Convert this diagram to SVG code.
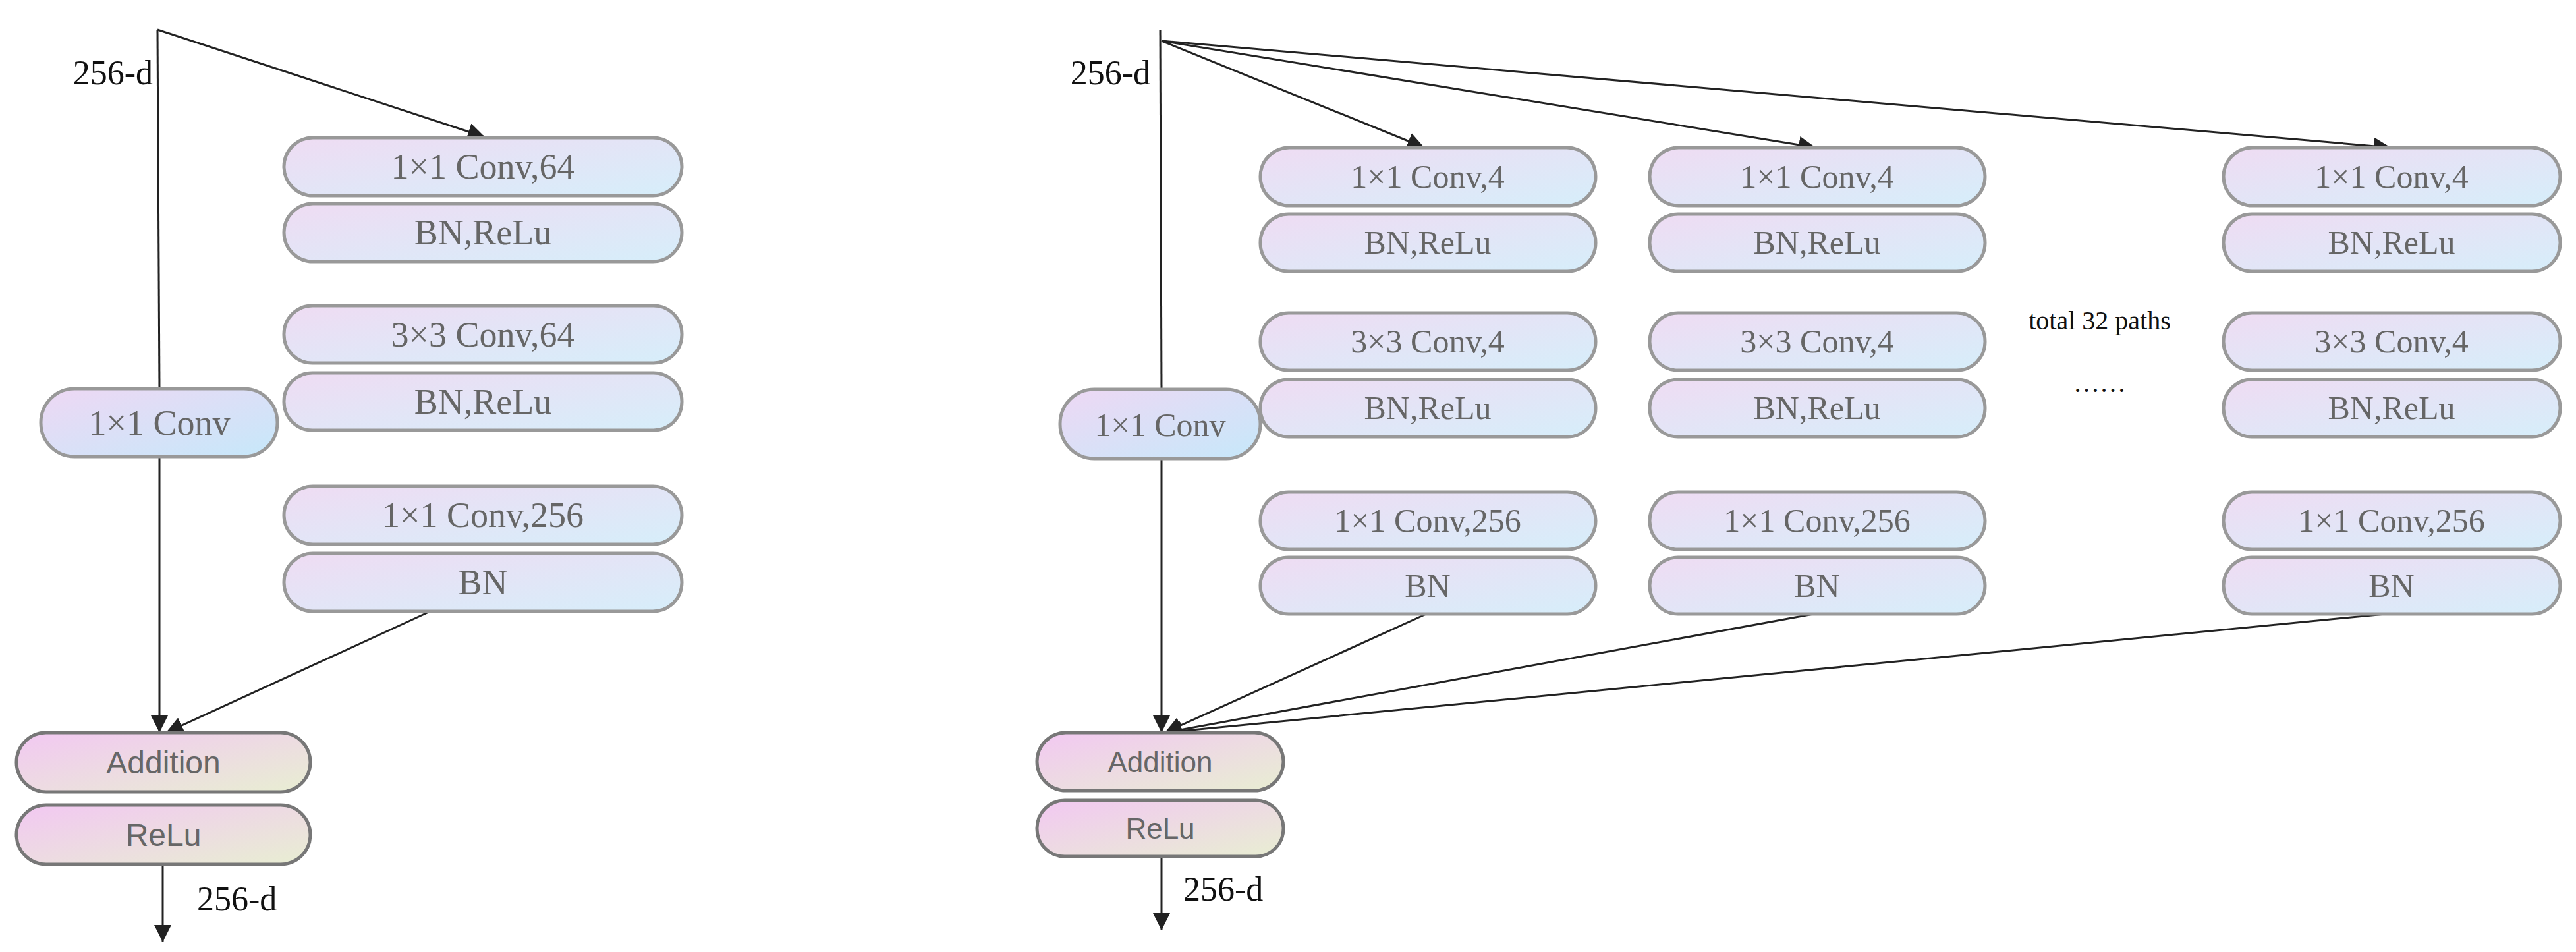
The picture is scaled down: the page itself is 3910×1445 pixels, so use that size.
<svg xmlns="http://www.w3.org/2000/svg" width="3910" height="1445" viewBox="0 0 3910 1445">
<defs>
<linearGradient id="gc" x1="0" y1="0" x2="1" y2="1"><stop offset="0" stop-color="#efdcf3"/><stop offset="1" stop-color="#d6eefa"/></linearGradient>
<linearGradient id="gs" x1="0" y1="0" x2="1" y2="1"><stop offset="0" stop-color="#eed8f4"/><stop offset="1" stop-color="#c6e8fa"/></linearGradient>
<linearGradient id="ga" x1="0" y1="0" x2="1" y2="1"><stop offset="0" stop-color="#f2c8f2"/><stop offset="1" stop-color="#e8eed2"/></linearGradient>
<marker id="ar" viewBox="0 0 10 10" refX="10" refY="5" markerWidth="10" markerHeight="10" markerUnits="userSpaceOnUse" orient="auto"><path d="M0,0 L10,5 L0,10 z" fill="#222"/></marker>
<style>
.b{fill:url(#gc);stroke:#999;stroke-width:5}
.s{fill:url(#gs);stroke:#999;stroke-width:5}
.a{fill:url(#ga);stroke:#777;stroke-width:5}
.t{font-family:"Liberation Serif",serif;font-size:54px;fill:#666;text-anchor:middle}
.ts{font-family:"Liberation Sans",sans-serif;font-size:48px;fill:#666;text-anchor:middle}
.k{font-family:"Liberation Serif",serif;font-size:52px;fill:#111}
.c{stroke:#222;stroke-width:3;fill:none}
.ca{stroke:#222;stroke-width:3;fill:none;marker-end:url(#ar)}
</style>
<marker id="a2" viewBox="0 0 10 10" refX="10" refY="5" markerWidth="26" markerHeight="26" markerUnits="userSpaceOnUse" orient="auto"><path d="M0,0 L10,5 L0,10 z" fill="#222"/></marker>
</defs>
<style>.ca{marker-end:url(#a2)}</style>
<g id="connectors">
<line class="c" x1="239" y1="45" x2="242" y2="591"/>
<line class="ca" x1="239" y1="45" x2="736" y2="208"/>
<line class="ca" x1="242" y1="693" x2="242" y2="1112"/>
<line class="ca" x1="653" y1="928" x2="252" y2="1112"/>
<line class="ca" x1="247" y1="1312" x2="247" y2="1430"/>
<line class="c" x1="1761" y1="45" x2="1763" y2="591"/>
<line class="ca" x1="1763" y1="62" x2="2162" y2="224"/>
<line class="ca" x1="1763" y1="62" x2="2756" y2="224"/>
<line class="ca" x1="1763" y1="62" x2="3629" y2="224"/>
<line class="ca" x1="1763" y1="696" x2="1763" y2="1112"/>
<line class="ca" x1="2167" y1="931" x2="1768" y2="1112"/>
<line class="ca" x1="2758" y1="931" x2="1768" y2="1112"/>
<line class="ca" x1="3631" y1="931" x2="1768" y2="1112"/>
<line class="ca" x1="1763" y1="1300" x2="1763" y2="1412"/>
</g>
<g id="labels">
<text class="k" x="232" y="128" text-anchor="end">256-d</text>
<text class="k" x="299" y="1382">256-d</text>
<text class="k" x="1746" y="128" text-anchor="end">256-d</text>
<text class="k" x="1796" y="1367">256-d</text>
<text class="k" x="3187" y="500" text-anchor="middle" style="font-size:40px">total 32 paths</text>
<text class="k" x="3187" y="595" text-anchor="middle" style="font-size:40px">……</text>
</g>
<g id="left-block">
<g id="l1"><rect class="b" x="431" y="209" width="604" height="88" rx="44"/><text class="t" x="733" y="271">1×1 Conv,64</text></g>
<g id="l2"><rect class="b" x="431" y="309" width="604" height="88" rx="44"/><text class="t" x="733" y="371">BN,ReLu</text></g>
<g id="l3"><rect class="b" x="431" y="464" width="604" height="87" rx="43"/><text class="t" x="733" y="526">3×3 Conv,64</text></g>
<g id="l4"><rect class="b" x="431" y="566" width="604" height="87" rx="43"/><text class="t" x="733" y="628">BN,ReLu</text></g>
<g id="l5"><rect class="b" x="431" y="738" width="604" height="88" rx="44"/><text class="t" x="733" y="800">1×1 Conv,256</text></g>
<g id="l6"><rect class="b" x="431" y="840" width="604" height="88" rx="44"/><text class="t" x="733" y="902">BN</text></g>
<g id="lshort"><rect class="s" x="62" y="590" width="359" height="103" rx="51"/><text class="t" x="242" y="660">1×1 Conv</text></g>
<g id="ladd"><rect class="a" x="25" y="1112" width="446" height="90" rx="45"/><text class="ts" x="248" y="1174">Addition</text></g>
<g id="lrelu"><rect class="a" x="25" y="1222" width="446" height="90" rx="45"/><text class="ts" x="248" y="1284">ReLu</text></g>
</g>
<g id="right-block">
<g id="rshort"><rect class="s" x="1609" y="591" width="304" height="105" rx="52"/><text class="t" x="1761" y="662" style="font-size:50px">1×1 Conv</text></g>
<g id="radd"><rect class="a" x="1574" y="1112" width="374" height="88" rx="44"/><text class="ts" x="1761" y="1172" style="font-size:44px">Addition</text></g>
<g id="rrelu"><rect class="a" x="1574" y="1215" width="374" height="85" rx="42"/><text class="ts" x="1761" y="1273" style="font-size:44px">ReLu</text></g>
</g>
<g id="paths" style="font-size:50px">
<g id="c1">
<rect class="b" x="1913" y="224" width="509" height="88" rx="44"/><text class="t" x="2167" y="285" style="font-size:50px">1×1 Conv,4</text>
<rect class="b" x="1913" y="325" width="509" height="87" rx="43"/><text class="t" x="2167" y="385" style="font-size:50px">BN,ReLu</text>
<rect class="b" x="1913" y="475" width="509" height="87" rx="43"/><text class="t" x="2167" y="535" style="font-size:50px">3×3 Conv,4</text>
<rect class="b" x="1913" y="576" width="509" height="87" rx="43"/><text class="t" x="2167" y="636" style="font-size:50px">BN,ReLu</text>
<rect class="b" x="1913" y="747" width="509" height="87" rx="43"/><text class="t" x="2167" y="807" style="font-size:50px">1×1 Conv,256</text>
<rect class="b" x="1913" y="846" width="509" height="86" rx="43"/><text class="t" x="2167" y="906" style="font-size:50px">BN</text>
</g>
<g id="c2">
<rect class="b" x="2504" y="224" width="509" height="88" rx="44"/><text class="t" x="2758" y="285" style="font-size:50px">1×1 Conv,4</text>
<rect class="b" x="2504" y="325" width="509" height="87" rx="43"/><text class="t" x="2758" y="385" style="font-size:50px">BN,ReLu</text>
<rect class="b" x="2504" y="475" width="509" height="87" rx="43"/><text class="t" x="2758" y="535" style="font-size:50px">3×3 Conv,4</text>
<rect class="b" x="2504" y="576" width="509" height="87" rx="43"/><text class="t" x="2758" y="636" style="font-size:50px">BN,ReLu</text>
<rect class="b" x="2504" y="747" width="509" height="87" rx="43"/><text class="t" x="2758" y="807" style="font-size:50px">1×1 Conv,256</text>
<rect class="b" x="2504" y="846" width="509" height="86" rx="43"/><text class="t" x="2758" y="906" style="font-size:50px">BN</text>
</g>
<g id="c3">
<rect class="b" x="3375" y="224" width="511" height="88" rx="44"/><text class="t" x="3630" y="285" style="font-size:50px">1×1 Conv,4</text>
<rect class="b" x="3375" y="325" width="511" height="87" rx="43"/><text class="t" x="3630" y="385" style="font-size:50px">BN,ReLu</text>
<rect class="b" x="3375" y="475" width="511" height="87" rx="43"/><text class="t" x="3630" y="535" style="font-size:50px">3×3 Conv,4</text>
<rect class="b" x="3375" y="576" width="511" height="87" rx="43"/><text class="t" x="3630" y="636" style="font-size:50px">BN,ReLu</text>
<rect class="b" x="3375" y="747" width="511" height="87" rx="43"/><text class="t" x="3630" y="807" style="font-size:50px">1×1 Conv,256</text>
<rect class="b" x="3375" y="846" width="511" height="86" rx="43"/><text class="t" x="3630" y="906" style="font-size:50px">BN</text>
</g>
</g>
</svg>
